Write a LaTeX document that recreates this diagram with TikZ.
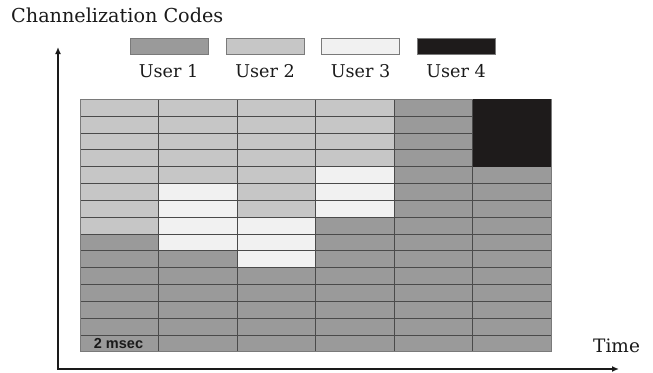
\documentclass[tikz,border=0pt]{standalone}
\usepackage{fontspec}
\setmainfont{DejaVu Serif}
\newfontfamily\labelsans{Liberation Sans}
\usetikzlibrary{arrows.meta}
\definecolor{uone}{HTML}{9A9A9A}
\definecolor{utwo}{HTML}{C6C6C6}
\definecolor{uthree}{HTML}{F1F1F1}
\definecolor{ufour}{HTML}{1E1B1B}
\definecolor{gridline}{HTML}{4A4A4A}
\definecolor{framegray}{HTML}{7A7A7A}
\definecolor{inkcol}{HTML}{1A1A1A}
\tikzset{
  legendbox/.style={draw=framegray, line width=0.6pt, minimum width=78pt, minimum height=16.5pt, inner sep=0pt},
  legendtext/.style={font=\fontsize{17.6}{20}\selectfont, inner sep=0pt, anchor=base, text=inkcol},
  cellline/.style={draw=gridline, line width=0.7pt},
  axisline/.style={line width=1.8pt, inkcol, {Latex[length=7pt,width=6pt]}-{Latex[length=7pt,width=6pt]}},
}
\begin{document}
\begin{tikzpicture}[x=1pt, y=-1pt]
\useasboundingbox (0,0) rectangle (653,372);
% geometry: grid from x=80 to 551, y=99.3 to 351.75; 6 columns, 15 rows
\def\gx{80}\def\gw{78.5}\def\gy{99.3}\def\gh{16.83}
% base fill (user 1)
\fill[uone] (80,99.3) rectangle (551,351.75);
% user 2 regions
\foreach \c/\n in {1/8,2/5,3/7,4/4}{
  \fill[utwo] ({\gx+\gw*(\c-1)},\gy) rectangle ({\gx+\gw*\c},{\gy+\gh*\n});
}
% user 3 regions
\foreach \c/\a/\b in {2/5/9,3/7/10,4/4/7}{
  \fill[uthree] ({\gx+\gw*(\c-1)},{\gy+\gh*\a}) rectangle ({\gx+\gw*\c},{\gy+\gh*\b});
}
% grid lines
\foreach \r in {1,...,14}{
  \draw[cellline] (\gx,{\gy+\gh*\r}) -- ({\gx+\gw*6},{\gy+\gh*\r});
}
\foreach \c in {1,...,5}{
  \draw[cellline] ({\gx+\gw*\c},\gy) -- ({\gx+\gw*\c},{\gy+\gh*15});
}
\draw[draw=framegray, line width=0.7pt] (80,99.3) rectangle (551,351.75);
% user 4 region
\fill[ufour] ({\gx+\gw*5},\gy) rectangle ({\gx+\gw*6},{\gy+\gh*4});
% cell label
\node[font=\labelsans\bfseries\fontsize{14.5}{16}\selectfont, anchor=base, inner sep=0pt, text=inkcol] (msec) at (118.5,348.8) {2 msec};
% axes
\coordinate (ytop) at (58,47);
\coordinate (origin) at (58,369);
\coordinate (xend) at (619,369);
\draw[axisline] (ytop) -- (origin) -- (xend);
% axis labels
\node[font=\fontsize{19.2}{22}\selectfont, anchor=base west, inner sep=0pt, text=inkcol] (ylab) at (11,23) {Channelization Codes};
\node[font=\fontsize{18.5}{21}\selectfont, anchor=base west, inner sep=0pt, text=inkcol] (xlab) at (593,352.5) {Time};
% legend
\node[legendbox, fill=uone] (l1) at (169.5,46.5) {};
\node[legendbox, fill=utwo] (l2) at (265,46.5) {};
\node[legendbox, fill=uthree] (l3) at (360.5,46.5) {};
\node[legendbox, fill=ufour] (l4) at (456,46.5) {};
\node[legendtext] (t1) at (168.5,77.7) {User 1};
\node[legendtext] (t2) at (265,77.7) {User 2};
\node[legendtext] (t3) at (360.5,77.7) {User 3};
\node[legendtext] (t4) at (456,77.7) {User 4};
\end{tikzpicture}
\end{document}
